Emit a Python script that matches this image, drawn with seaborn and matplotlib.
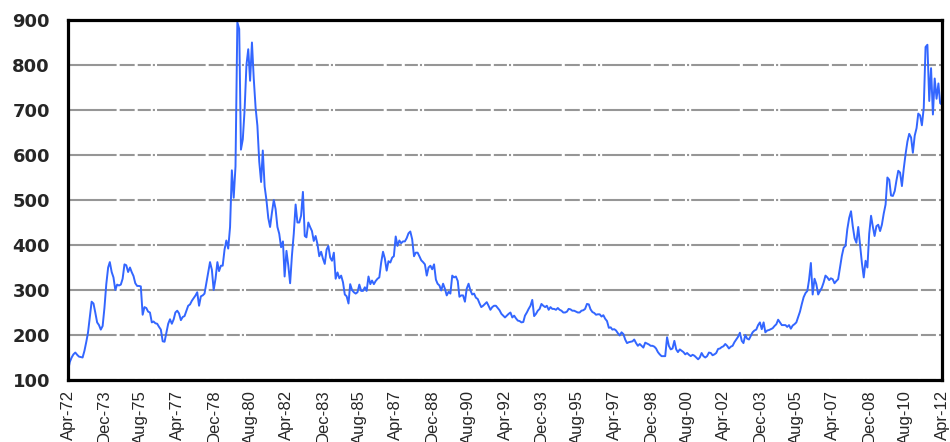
import pandas as pd
import numpy as np
import matplotlib
matplotlib.use("Agg")
import matplotlib.pyplot as plt
import matplotlib.dates as mdates
import seaborn as sns

# monthly values, Apr-72 .. Apr-12
prices_1970s = [
    120, 140, 150, 157, 161, 156, 152, 151, 150,                  # 1972 Apr-Dec
    165, 185, 205, 240, 274, 270, 250, 228, 222, 212, 220, 260,   # 1973
    313, 350, 362, 340, 328, 300, 312, 310, 312, 325, 357, 355,   # 1974
    340, 350, 340, 331, 315, 309, 309, 308, 245, 262, 260, 252,   # 1975
    250, 228, 230, 226, 225, 218, 212, 186, 185, 205, 225, 235,   # 1976
    225, 235, 250, 254, 248, 233, 240, 242, 254, 265, 268, 276,   # 1977
    282, 288, 295, 265, 286, 288, 292, 316, 340, 362, 345, 300,   # 1978
    325, 362, 342, 354, 354, 390, 410, 392, 440, 566, 505, 575,   # 1979
]
prices_1980s = [
    895, 880, 612, 635, 700, 800, 835, 765, 850, 770, 705, 665,   # 1980
    585, 540, 610, 530, 500, 460, 440, 472, 500, 480, 440, 425,   # 1981
    395, 408, 330, 387, 355, 315, 376, 425, 490, 450, 450, 465,   # 1982
    518, 420, 417, 450, 440, 431, 409, 420, 402, 375, 385, 370,   # 1983
    358, 390, 398, 372, 365, 383, 325, 339, 326, 332, 317, 290,   # 1984
    286, 270, 313, 300, 295, 292, 295, 312, 298, 298, 306, 298,   # 1985
    330, 313, 321, 313, 320, 325, 328, 361, 385, 370, 343, 364,   # 1986
    361, 372, 375, 419, 398, 410, 404, 408, 408, 415, 426, 430,   # 1987
    413, 375, 383, 383, 375, 366, 362, 357, 332, 350, 354, 346,   # 1988
    357, 323, 314, 310, 299, 314, 303, 288, 296, 292, 332, 328,   # 1989
]
prices_1990s = [
    330, 320, 285, 288, 288, 274, 303, 314, 299, 290, 292, 283,   # 1990
    280, 270, 262, 265, 269, 273, 265, 256, 262, 265, 265, 260,   # 1991
    255, 247, 243, 239, 243, 247, 250, 239, 243, 237, 232, 231,   # 1992
    228, 229, 243, 250, 258, 265, 278, 242, 247, 254, 258, 269,   # 1993
    265, 262, 265, 256, 262, 258, 258, 256, 260, 256, 254, 250,   # 1994
    250, 252, 258, 257, 254, 254, 252, 250, 250, 254, 255, 258,   # 1995
    269, 268, 257, 251, 249, 245, 246, 246, 241, 244, 236, 231,   # 1996
    216, 217, 212, 213, 210, 204, 199, 206, 202, 190, 182, 184,   # 1997
    185, 186, 190, 182, 176, 180, 176, 172, 183, 181, 179, 176,   # 1998
    176, 174, 170, 162, 157, 153, 153, 153, 195, 176, 168, 170,   # 1999
]
prices_2000s = [
    187, 168, 162, 168, 165, 162, 157, 160, 156, 153, 156, 154,   # 2000
    150, 146, 150, 160, 153, 150, 153, 161, 160, 155, 157, 160,   # 2001
    169, 170, 173, 175, 180, 176, 170, 174, 176, 184, 190, 196,   # 2002
    205, 187, 182, 200, 192, 190, 198, 206, 210, 212, 222, 228,   # 2003
    213, 228, 206, 210, 211, 213, 215, 220, 224, 234, 228, 222,   # 2004
    222, 222, 218, 222, 214, 221, 224, 228, 240, 252, 269, 284,   # 2005
    293, 298, 322, 360, 290, 325, 313, 290, 298, 305, 317, 332,   # 2006
    328, 322, 326, 324, 315, 320, 324, 350, 376, 394, 398, 435,   # 2007
    460, 475, 442, 415, 405, 440, 400, 360, 328, 365, 350, 425,   # 2008
    465, 440, 420, 442, 445, 431, 445, 470, 490, 550, 545, 510,   # 2009
]
prices_2010s = [
    509, 520, 543, 565, 561, 531, 569, 602, 630, 647, 639, 605,   # 2010
    643, 660, 692, 688, 666, 705, 840, 845, 720, 793, 690, 770,   # 2011
    725, 759, 715, 712,                                           # 2012 Jan-Apr
]

tick_labels = ["Apr-72", "Dec-73", "Aug-75", "Apr-77", "Dec-78", "Aug-80", "Apr-82",
               "Dec-83", "Aug-85", "Apr-87", "Dec-88", "Aug-90", "Apr-92", "Dec-93",
               "Aug-95", "Apr-97", "Dec-98", "Aug-00", "Apr-02", "Dec-03", "Aug-05",
               "Apr-07", "Dec-08", "Aug-10", "Apr-12"]
y_ticks = [100, 200, 300, 400, 500, 600, 700, 800, 900]

values = prices_1970s + prices_1980s + prices_1990s + prices_2000s + prices_2010s
dates = pd.date_range("1972-04-01", periods=len(values), freq="MS")
df = pd.DataFrame({"date": dates, "price": values})

sns.set_style("white")
plt.rcParams["lines.scale_dashes"] = False

fig = plt.figure(figsize=(9.5, 4.42), dpi=100)
ax = fig.add_axes([68 / 950, 62 / 442, 874 / 950, 360 / 442])

sns.lineplot(data=df, x="date", y="price", color="#3366ff", linewidth=1.4, ax=ax)

tick_dates = pd.to_datetime(tick_labels, format="%b-%y")
ax.set_xlim(tick_dates[0], tick_dates[-1])
ax.set_ylim(100, 900)
ax.set_xticks(tick_dates)
ax.set_xticklabels(tick_labels, rotation=90, fontsize=12, family="Liberation Sans")
ax.set_yticks(y_ticks)
ax.set_yticklabels([str(v) for v in y_ticks], fontsize=13, fontweight="bold",
                   family="DejaVu Sans")
ax.tick_params(axis="both", length=0)
ax.tick_params(axis="y", pad=13)
ax.tick_params(axis="x", pad=7)

# gray grid: long dash, two shorter dashes and a dot
ax.set_axisbelow(True)
ax.yaxis.grid(True, color="#969696", linewidth=1.5,
              linestyle=(0, (35, 2.2, 10.8, 2.2, 9.4, 1.5, 1.5, 1.5)))
ax.xaxis.grid(False)
for s in ax.spines.values():
    s.set_color("black")
    s.set_linewidth(2.3)

ax.set_xlabel("")
ax.set_ylabel("")

fig.savefig("out.png", dpi=100)
